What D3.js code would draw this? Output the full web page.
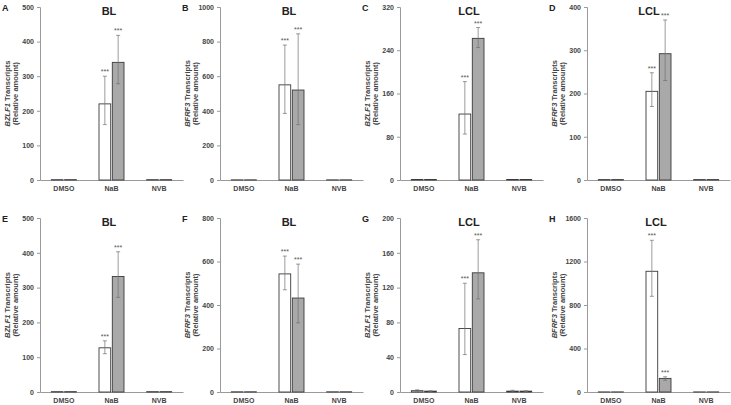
<!DOCTYPE html>
<html><head><meta charset="utf-8">
<script src="https://cdn.jsdelivr.net/npm/d3@7"></script>
<style>
body{margin:0;background:#fff;}
svg{display:block;font-family:Arial,"Liberation Sans",sans-serif;}
</style></head><body>
<svg id="chart" width="731" height="405"></svg>
<script>
const categories = ["DMSO", "NaB", "NVB"];
const panelLetters = ["A", "B", "C", "D", "E", "F", "G", "H"];
const panelTitles = ["BL", "BL", "LCL", "LCL", "BL", "BL", "LCL", "LCL"];
const geneNames = ["BZLF1", "BFRF3", "BZLF1", "BFRF3", "BZLF1", "BFRF3", "BZLF1", "BFRF3"];
const yMax = [500, 1000, 320, 400, 500, 800, 200, 1600];
const yTickStep = [100, 200, 80, 100, 100, 200, 40, 400];

// white bars (first series) per panel: [DMSO, NaB, NVB]
const whiteValues = [[1,220,1],[1,550,1],[1,122,1],[1,205,1],[1,127,1],[1,543,1],[1.5,73,1],[1,1110,1]];
const whiteErrLow = [[1,160,1],[1,385,1],[1,85,1],[1,170,1],[1,110,1],[1,470,1],[0.8,43,0.3],[1,880,1]];
const whiteErrHigh = [[1,300,1],[1,780,1],[1,182,1],[1,248,1],[1,147,1],[1,625,1],[2.5,125,2],[1,1395,1]];
// gray bars (second series)
const grayValues = [[1,340,1],[1,520,1],[1,262,1],[1,292,1],[1,332,1],[1,432,1],[1,137,1],[1,125,1]];
const grayErrLow = [[1,278,1],[1,320,1],[1,245,1],[1,230,1],[1,272,1],[1,318,1],[0.6,107,0.6],[1,108,1]];
const grayErrHigh = [[1,418,1],[1,845,1],[1,282,1],[1,370,1],[1,403,1],[1,588,1],[1.4,175,1.4],[1,140,1]];
const sigMarks = [["","***",""],["","***",""],["","***",""],["","***",""],["","***",""],["","***",""],["","***",""],["","***",""]];

const svg = d3.select("#chart");
const axisXs = [40, 220, 400, 587];
const rowTop = [7, 218];
const rowBottom = [180, 392];
const titleOffsets = [69, 69, 69, 62, 69, 69, 69, 69];
const plotW = 143;
const axisColor = "#9a9a9a";
const textColor = "#444";

const series = ["white", "gray"];
const fills = {white: "#ffffff", gray: "#a9a9a9"};

panelLetters.forEach((letter, i) => {
  const col = i % 4, row = Math.floor(i / 4);
  const x0 = axisXs[col];
  const yTop = rowTop[row], yBot = rowBottom[row];
  const g = svg.append("g");

  const x = d3.scaleBand().domain(categories).range([x0, x0 + plotW]);
  const xs = d3.scaleBand().domain(series).range([-12.5, 12.5]).paddingInner(0.12);
  const y = d3.scaleLinear().domain([0, yMax[i]]).range([yBot, yTop]);

  // y axis
  const yAxis = d3.axisLeft(y).tickValues(d3.range(0, yMax[i] + 1e-9, yTickStep[i]))
    .tickFormat(d3.format("d")).tickSize(3).tickPadding(3);
  const ya = g.append("g").attr("transform", `translate(${x0},0)`).call(yAxis);
  ya.select(".domain").attr("stroke", axisColor);
  ya.selectAll(".tick line").attr("stroke", axisColor);
  ya.selectAll(".tick text").attr("fill", textColor).attr("font-size", 7).attr("font-weight", "bold").attr("font-family", "Arial, 'Liberation Sans', sans-serif");

  // x axis
  const xAxis = d3.axisBottom(x).tickSize(0).tickPadding(6);
  const xa = g.append("g").attr("transform", `translate(0,${yBot})`).call(xAxis);
  xa.select(".domain").attr("stroke", axisColor);
  xa.selectAll(".tick text").attr("fill", textColor).attr("font-size", 7).attr("font-weight", "bold").attr("font-family", "Arial, 'Liberation Sans', sans-serif");

  const data = [];
  categories.forEach((c, j) => {
    data.push({c, s: "white", v: whiteValues[i][j], lo: whiteErrLow[i][j], hi: whiteErrHigh[i][j], sig: sigMarks[i][j]});
    data.push({c, s: "gray", v: grayValues[i][j], lo: grayErrLow[i][j], hi: grayErrHigh[i][j], sig: sigMarks[i][j]});
  });

  const bx = d => x(d.c) + x.bandwidth() / 2 + xs(d.s);
  const bc = d => bx(d) + xs.bandwidth() / 2;

  g.selectAll("rect.bar").data(data).join("rect")
    .attr("class", "bar")
    .attr("x", bx)
    .attr("width", xs.bandwidth())
    .attr("y", d => y(d.v))
    .attr("height", d => yBot - y(d.v))
    .attr("fill", d => fills[d.s])
    .attr("stroke", "#3a3a3a")
    .attr("stroke-width", 0.9);

  // error bars
  const eb = g.selectAll("g.err").data(data.filter(d => d.hi - d.lo > 0.5)).join("g").attr("class", "err")
    .attr("stroke", "#707070").attr("stroke-width", 0.7);
  eb.append("line").attr("x1", bc).attr("x2", bc).attr("y1", d => y(d.lo)).attr("y2", d => y(d.hi));
  eb.append("line").attr("x1", d => bc(d) - 2).attr("x2", d => bc(d) + 2).attr("y1", d => y(d.lo)).attr("y2", d => y(d.lo));
  eb.append("line").attr("x1", d => bc(d) - 2).attr("x2", d => bc(d) + 2).attr("y1", d => y(d.hi)).attr("y2", d => y(d.hi));

  // significance
  g.selectAll("text.sig").data(data.filter(d => d.sig)).join("text")
    .attr("class", "sig")
    .attr("x", bc).attr("y", d => y(d.hi) - 2)
    .attr("text-anchor", "middle").attr("font-size", 7).attr("fill", "#555")
    .text(d => d.sig);

  // title
  g.append("text").attr("x", x0 + titleOffsets[i]).attr("y", yTop + 8)
    .attr("text-anchor", "middle").attr("font-size", 11).attr("font-weight", "bold").attr("fill", "#222")
    .text(panelTitles[i]);

  // panel letter
  g.append("text").attr("x", x0 - 38).attr("y", yTop + 4)
    .attr("font-size", 9).attr("font-weight", "bold").attr("fill", "#222")
    .text(letter);

  // y label
  const cy = (yTop + yBot) / 2;
  const yl = g.append("text").attr("transform", `translate(${x0 - 30},${cy}) rotate(-90)`)
    .attr("text-anchor", "middle").attr("font-size", 7.5).attr("font-weight", "bold").attr("fill", textColor);
  yl.append("tspan").attr("font-style", "italic").text(geneNames[i]);
  yl.append("tspan").text(" Transcripts");
  g.append("text").attr("transform", `translate(${x0 - 22},${cy}) rotate(-90)`)
    .attr("text-anchor", "middle").attr("font-size", 7.5).attr("font-weight", "bold").attr("fill", textColor)
    .text("(Relative amount)");
});
</script>
</body></html>
